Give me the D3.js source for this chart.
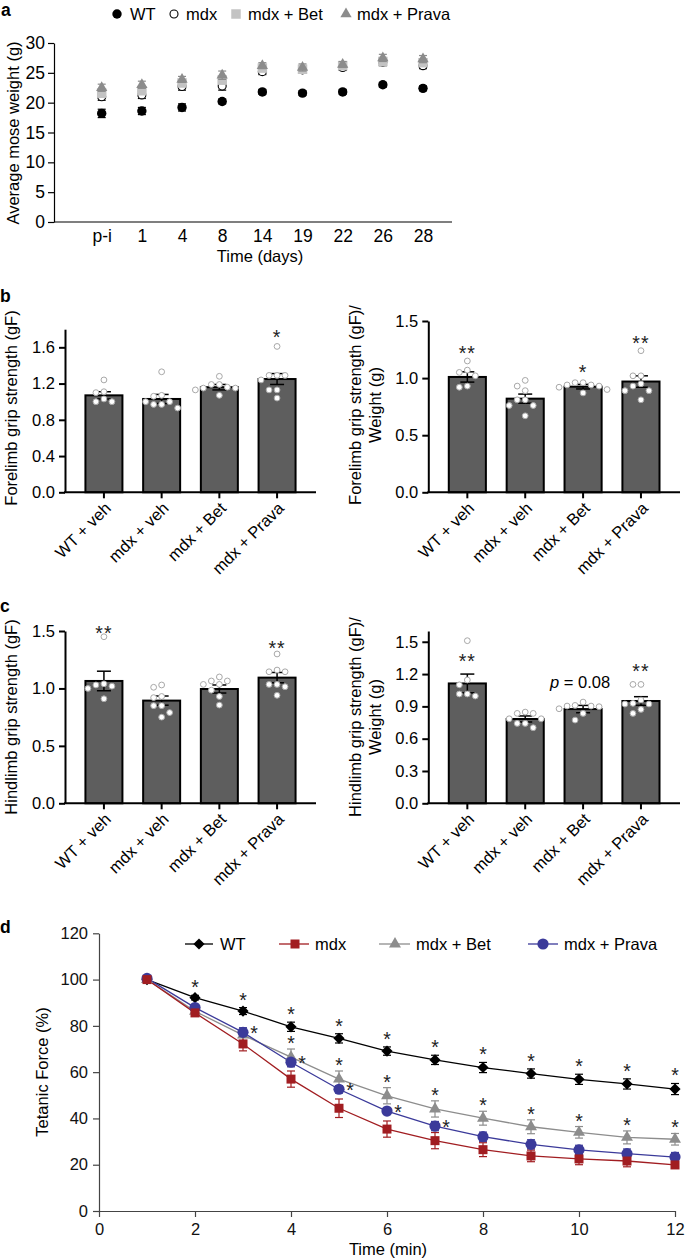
<!DOCTYPE html>
<html><head><meta charset="utf-8">
<script src="https://cdn.jsdelivr.net/npm/d3@7"></script>
<style>
body{margin:0;background:#fff}
svg{display:block}
text{font-family:"Liberation Sans",Arial,Helvetica,sans-serif}
</style>
</head><body><svg id="c" width="685" height="1260"></svg>
<script>
// ---------- DATA ----------
// Panel a: body weight
const weightDays = ["p-i","1","4","8","14","19","22","26","28"];
const wtWeight    = [18.2,18.6,19.2,20.2,21.8,21.6,21.8,23.0,22.4];
const wtWeightErr = [0.7,0.6,0.6,0.4,0.4,0.4,0.4,0.4,0.4];
const mdxWeight    = [21.0,21.3,22.7,22.8,25.2,25.5,25.9,26.8,26.2];
const mdxWeightErr = [0.6,0.6,0.6,0.7,0.5,0.5,0.5,0.6,0.5];
const betWeight    = [21.6,22.0,23.3,23.8,25.8,25.6,26.2,26.9,26.7];
const betWeightErr = [0.7,0.6,0.6,0.7,0.6,0.6,0.6,0.7,0.6];
const pravaWeight    = [22.5,23.0,23.9,24.6,26.2,25.9,26.4,27.5,27.3];
const pravaWeightErr = [0.6,0.6,0.5,0.7,0.5,0.6,0.5,0.6,0.6];
const weightSeriesNames = ["WT","mdx","mdx + Bet","mdx + Prava"];

// Panels b, c: grip strength
const gripGroups = ["WT + veh","mdx + veh","mdx + Bet","mdx + Prava"];

const foreMean = [1.07,1.03,1.16,1.25];
const foreErr  = [0.04,0.05,0.03,0.06];
const forePoints = [
  [1.24,1.11,1.10,1.03,1.00,1.00],
  [1.33,1.07,1.06,1.00,1.00,0.97,0.97,0.93],
  [1.28,1.19,1.19,1.16,1.15,1.15,1.13,1.07],
  [1.61,1.29,1.29,1.29,1.24,1.13,1.13,1.04]];
const foreSig = ["","","","*"];
const foreSigLevel = [0,0,0,1.755];

const foreWMean = [1.01,0.82,0.925,0.97];
const foreWErr  = [0.045,0.04,0.02,0.05];
const foreWPoints = [
  [1.15,1.07,1.05,1.02,0.93,0.92],
  [0.98,0.93,0.89,0.81,0.81,0.76,0.76,0.67],
  [0.96,0.96,0.94,0.94,0.93,0.92,0.90,0.87],
  [1.24,1.02,1.02,0.95,0.93,0.89,0.89,0.81]];
const foreWSig = ["**","","*","**"];
const foreWSigLevel = [1.255,0,1.086,1.342];

const hindMean = [1.065,0.894,0.995,1.094];
const hindErr  = [0.085,0.04,0.035,0.045];
const hindPoints = [
  [1.45,1.04,1.03,1.02,1.00,0.91],
  [1.03,1.01,0.93,0.92,0.85,0.85,0.79,0.75],
  [1.10,1.065,1.065,1.035,1.035,0.985,0.93,0.855],
  [1.30,1.16,1.145,1.145,1.035,1.035,1.015,0.94]];
const hindSig = ["**","","","**"];
const hindSigLevel = [1.52,0,0,1.384];

const hindWMean = [1.113,0.783,0.875,0.95];
const hindWErr  = [0.087,0.028,0.034,0.04];
const hindWPoints = [
  [1.51,1.145,1.10,1.015,1.015,0.996],
  [0.847,0.835,0.835,0.785,0.785,0.742,0.742,0.702],
  [0.94,0.909,0.903,0.903,0.897,0.878,0.835,0.773],
  [1.104,1.104,0.959,0.928,0.922,0.922,0.872,0.835]];
const hindWSig = ["**","","p = 0.08","**"];
const hindWSigLevel = [1.356,0,1.129,1.268];

// Panel d: tetanic force fatigue
const fatigueTime = [1,2,3,4,5,6,7,8,9,10,11,12];
const wtForce    = [100,92.2,86.4,79.6,74.6,69.1,65.3,62.0,59.4,56.9,54.9,52.7];
const wtForceErr = [0,1.0,1.5,2.0,2.0,1.8,2.0,2.2,2.0,2.2,2.2,2.4];
const mdxForce    = [100,85.6,72.2,57.0,44.4,35.4,30.4,26.5,23.8,22.5,21.6,19.9];
const mdxForceErr = [0,1.5,3.0,3.5,4.0,3.5,3.5,3.0,2.5,2.5,2.5,1.5];
const betForce    = [100,86.3,76.0,66.5,57.0,49.8,44.1,40.1,36.4,34.0,31.8,31.0];
const betForceErr = [0,1.5,3.0,3.5,3.5,3.5,3.5,3.0,3.0,2.5,2.8,2.5];
const pravaForce    = [100.5,87.9,77.2,64.3,52.6,43.2,36.7,32.1,28.8,26.4,24.8,23.3];
const pravaForceErr = [0,1.0,2.0,2.0,1.5,1.5,2.0,2.0,2.0,2.0,2.0,2.0];
const wtStarTimes    = [2,3,4,5,6,7,8,9,10,11,12];
const betStarTimes   = [4,5,6,7,8,9,10,11,12];
const pravaStarTimes = [3,4,5,6,7];
const forceYTicks = [0,20,40,60,80,100,120];
const forceXTicks = [0,2,4,6,8,10,12];

// ---------- DRAWING ----------
const FS = 16.5;
const STAR_FS = 19.5;
const svg = d3.select("#c");

function panelLabel(t, x, y){
  svg.append("text").attr("x",x).attr("y",y).text(t)
    .attr("font-size",17.5).attr("font-weight","bold");
}

// ===== Panel a =====
panelLabel("a",1,16);
(function(){
  const L=54, R=452, T=43, B=222;
  const AFS = 17.5;
  const x = d3.scalePoint().domain(weightDays).range([101.7,423]);
  const y = d3.scaleLinear().domain([0,30]).range([B,T]);
  const g = svg.append("g");
  const ya = g.append("g").attr("transform",`translate(${L},0)`)
    .call(d3.axisLeft(y).tickValues([0,5,10,15,20,25,30]).tickSize(6).tickSizeOuter(0).tickPadding(3));
  ya.selectAll("text").attr("font-size",AFS).attr("font-family",null);
  ya.selectAll("path,line").attr("stroke","#000").attr("stroke-width",1.2);
  g.append("line").attr("x1",L).attr("x2",R).attr("y1",B).attr("y2",B).attr("stroke","#000").attr("stroke-width",1.2);
  const xa = g.append("g").attr("transform",`translate(0,${B})`)
    .call(d3.axisBottom(x).tickSize(0).tickPadding(8));
  xa.select(".domain").remove();
  xa.selectAll("text").attr("font-size",AFS).attr("font-family",null);
  g.append("text").attr("x",260).attr("y",262).attr("text-anchor","middle").attr("font-size",FS).text("Time (days)");
  g.append("text").attr("transform","translate(19,133) rotate(-90)").attr("text-anchor","middle").attr("font-size",FS).text("Average mose weight (g)");

  const series = [
    {v:wtWeight,e:wtWeightErr,sym:d3.symbolCircle,size:Math.PI*4.7*4.7,fill:"#000",stroke:"none",ec:"#000"},
    {v:mdxWeight,e:mdxWeightErr,sym:d3.symbolCircle,size:Math.PI*4*4,fill:"#fff",stroke:"#000",ec:"#000"},
    {v:betWeight,e:betWeightErr,sym:d3.symbolSquare,size:9.5*9.5,fill:"#c3c3c3",stroke:"none",ec:"#c3c3c3"},
    {v:pravaWeight,e:pravaWeightErr,sym:d3.symbolTriangle,size:55,fill:"#8c8c8c",stroke:"none",ec:"#8c8c8c"}
  ];
  series.forEach(s=>{
    const sg = g.append("g");
    weightDays.forEach((d,i)=>{
      const cx=x(d), y1=y(s.v[i]+s.e[i]), y2=y(s.v[i]-s.e[i]);
      sg.append("line").attr("x1",cx).attr("x2",cx).attr("y1",y1).attr("y2",y2).attr("stroke",s.ec).attr("stroke-width",1.2);
      sg.append("line").attr("x1",cx-4).attr("x2",cx+4).attr("y1",y1).attr("y2",y1).attr("stroke",s.ec).attr("stroke-width",1.2);
      sg.append("line").attr("x1",cx-4).attr("x2",cx+4).attr("y1",y2).attr("y2",y2).attr("stroke",s.ec).attr("stroke-width",1.2);
      sg.append("path").attr("d",d3.symbol(s.sym,s.size)()).attr("transform",`translate(${cx},${y(s.v[i])})`)
        .attr("fill",s.fill).attr("stroke",s.stroke).attr("stroke-width",1.1);
    });
  });
  // legend
  const leg = [
    {x:117,tx:130,i:0},{x:174,tx:186,i:1},{x:236,tx:248,i:2},{x:346,tx:357,i:3}];
  leg.forEach(l=>{
    const s=series[l.i];
    g.append("path").attr("d",d3.symbol(s.sym,s.size)()).attr("transform",`translate(${l.x},${14})`)
      .attr("fill",s.fill).attr("stroke",s.stroke).attr("stroke-width",1.1);
    g.append("text").attr("x",l.tx).attr("y",20).attr("font-size",FS).text(weightSeriesNames[l.i]);
  });
})();

// ===== Bar panels =====
function barPanel(o){
  const x = d3.scaleBand().domain(gripGroups).range([o.x0,o.x1]).paddingInner(0.359).paddingOuter(0.354);
  const y = d3.scaleLinear().domain([0,o.max]).range([o.y0,o.yTop]);
  const g = svg.append("g");
  const bw = x.bandwidth();
  // bars
  gripGroups.forEach((k,i)=>{
    g.append("rect").attr("x",x(k)).attr("y",y(o.mean[i])).attr("width",bw).attr("height",o.y0-y(o.mean[i]))
      .attr("fill","#5e5e5e").attr("stroke","#000").attr("stroke-width",2);
  });
  // error bars
  gripGroups.forEach((k,i)=>{
    const cx=x(k)+bw/2, y1=y(o.mean[i]+o.err[i]), y2=y(o.mean[i]-o.err[i]);
    g.append("line").attr("x1",cx).attr("x2",cx).attr("y1",y1).attr("y2",y2).attr("stroke","#000").attr("stroke-width",1.5);
    [y1,y2].forEach(yy=>g.append("line").attr("x1",cx-7).attr("x2",cx+7).attr("y1",yy).attr("y2",yy).attr("stroke","#000").attr("stroke-width",1.5));
  });
  // points, simple beeswarm
  gripGroups.forEach((k,i)=>{
    const cx=x(k)+bw/2;
    const placed=[];
    const pts=o.points[i].slice().sort((a,b)=>b-a);
    pts.forEach(v=>{
      const py=y(v);
      const cands=[0,-8,8,-16,16,-24,24];
      let off=0;
      for(const c of cands){
        if(placed.every(p=>Math.hypot(p[0]-c,p[1]-py)>=7)){off=c;break;}
      }
      placed.push([off,py]);
      g.append("circle").attr("cx",cx+off).attr("cy",py).attr("r",2.9)
        .attr("fill","#fff").attr("stroke","#a8a8a8").attr("stroke-width",1);
    });
  });
  // axes
  const ya = g.append("g").attr("transform",`translate(${o.x0},0)`)
    .call(d3.axisLeft(y).tickValues(o.ticks).tickFormat(d3.format(".1f")).tickSize(6).tickSizeOuter(0).tickPadding(4));
  ya.selectAll("path,line").attr("stroke","#000").attr("stroke-width",2);
  ya.selectAll("text").attr("font-size",FS).attr("font-family",null);
  g.append("line").attr("x1",o.x0-1).attr("x2",o.x1).attr("y1",o.y0).attr("y2",o.y0).attr("stroke","#000").attr("stroke-width",2);
  gripGroups.forEach(k=>{
    const cx=x(k)+bw/2;
    g.append("line").attr("x1",cx).attr("x2",cx).attr("y1",o.y0).attr("y2",o.y0+6).attr("stroke","#000").attr("stroke-width",2);
    g.append("text").attr("transform",`translate(${cx+8},${o.y0+17}) rotate(-45)`).attr("text-anchor","end")
      .attr("font-size",FS).text(k);
  });
  // significance
  gripGroups.forEach((k,i)=>{
    const s=o.sig[i]; if(!s) return;
    const cx=x(k)+bw/2;
    if(s.startsWith("p")){
      const t=g.append("text").attr("x",cx-3).attr("y",y(o.sigLevel[i])+6).attr("text-anchor","middle").attr("font-size",FS);
      t.append("tspan").attr("font-style","italic").text("p");
      t.append("tspan").text(s.slice(1));
    } else {
      g.append("text").attr("x",cx).attr("y",y(o.sigLevel[i])+11).attr("text-anchor","middle")
        .attr("font-size",STAR_FS).attr("fill","#222").attr("letter-spacing",1).text(s);
    }
  });
  // y label
  const lt = g.append("text").attr("transform",`translate(${o.lx},${o.ly}) rotate(-90)`).attr("text-anchor","middle").attr("font-size",FS);
  o.label.forEach((t,j)=>lt.append("tspan").attr("x",0).attr("dy",j===0?0:20).text(t));
}

panelLabel("b",0,302);
barPanel({x0:65,x1:316,y0:492.3,yTop:329.2,max:1.8,ticks:[0,0.4,0.8,1.2,1.6],
  mean:foreMean,err:foreErr,points:forePoints,sig:foreSig,sigLevel:foreSigLevel,
  label:["Forelimb grip strength (gF)"],lx:17,ly:408});
barPanel({x0:428.3,x1:680,y0:492.3,yTop:321,max:1.5,ticks:[0,0.5,1.0,1.5],
  mean:foreWMean,err:foreWErr,points:foreWPoints,sig:foreWSig,sigLevel:foreWSigLevel,
  label:["Forelimb grip strength (gF)/","Weight (g)"],lx:361,ly:405});
panelLabel("c",0,612);
barPanel({x0:65,x1:316,y0:803.3,yTop:631,max:1.5,ticks:[0,0.5,1.0,1.5],
  mean:hindMean,err:hindErr,points:hindPoints,sig:hindSig,sigLevel:hindSigLevel,
  label:["Hindlimb grip strength (gF)"],lx:17,ly:717});
barPanel({x0:428.3,x1:680,y0:803.3,yTop:631,max:1.6,ticks:[0,0.3,0.6,0.9,1.2,1.5],
  mean:hindWMean,err:hindWErr,points:hindWPoints,sig:hindWSig,sigLevel:hindWSigLevel,
  label:["Hindlimb grip strength (gF)/","Weight (g)"],lx:361,ly:717});

// ===== Panel d =====
panelLabel("d",0,933);
(function(){
  const L=99, R=675, T=933.3, B=1211;
  const x = d3.scaleLinear().domain([0,12]).range([L,R]);
  const y = d3.scaleLinear().domain([0,120]).range([B,T]);
  const g = svg.append("g");
  const ax = g.append("g").attr("transform",`translate(0,${B})`)
    .call(d3.axisBottom(x).tickValues(forceXTicks).tickSize(6).tickSizeOuter(0).tickPadding(6));
  const ay = g.append("g").attr("transform",`translate(${L},0)`)
    .call(d3.axisLeft(y).tickValues(forceYTicks).tickSize(6).tickSizeOuter(0).tickPadding(5));
  [ax,ay].forEach(a=>{
    a.selectAll("path,line").attr("stroke","#444").attr("stroke-width",1.2);
    a.selectAll("text").attr("font-size",FS).attr("font-family",null).attr("fill","#111");
  });
  g.append("text").attr("x",388).attr("y",1255).attr("text-anchor","middle").attr("font-size",FS).text("Time (min)");
  g.append("text").attr("transform",`translate(48,1072) rotate(-90)`).attr("text-anchor","middle").attr("font-size",FS).text("Tetanic Force (%)");

  const diamond = "M0,-5.6L5.6,0L0,5.6L-5.6,0Z";
  const series = [
    {name:"WT",v:wtForce,e:wtForceErr,color:"#000",path:diamond},
    {name:"mdx",v:mdxForce,e:mdxForceErr,color:"#a11d21",path:d3.symbol(d3.symbolSquare,9*9)()},
    {name:"mdx + Bet",v:betForce,e:betForceErr,color:"#8d8d8d",path:d3.symbol(d3.symbolTriangle,62)()},
    {name:"mdx + Prava",v:pravaForce,e:pravaForceErr,color:"#3b3a9a",path:d3.symbol(d3.symbolCircle,Math.PI*5.6*5.6)()}
  ];
  const line = d3.line().x((d,i)=>x(fatigueTime[i])).y(d=>y(d));
  const drawOrder=[0,2,3,1];
  drawOrder.forEach(k=>{
    const s=series[k];
    const sg=g.append("g");
    sg.append("path").attr("d",line(s.v)).attr("fill","none").attr("stroke",s.color).attr("stroke-width",1.3);
    fatigueTime.forEach((t,i)=>{
      if(!s.e[i]) return;
      const cx=x(t), y1=y(s.v[i]+s.e[i]), y2=y(s.v[i]-s.e[i]);
      sg.append("line").attr("x1",cx).attr("x2",cx).attr("y1",y1).attr("y2",y2).attr("stroke",s.color).attr("stroke-width",1.2);
      [y1,y2].forEach(yy=>sg.append("line").attr("x1",cx-4).attr("x2",cx+4).attr("y1",yy).attr("y2",yy).attr("stroke",s.color).attr("stroke-width",1.2));
    });
  });
  drawOrder.forEach(k=>{
    const s=series[k];
    fatigueTime.forEach((t,i)=>{
      g.append("path").attr("d",s.path).attr("transform",`translate(${x(t)},${y(s.v[i])})`).attr("fill",s.color);
    });
  });
  // stars
  const star=(sx,sy)=>g.append("text").attr("x",sx).attr("y",sy).attr("text-anchor","middle").attr("font-size",STAR_FS).attr("fill","#222").text("*");
  wtStarTimes.forEach(t=>{const i=fatigueTime.indexOf(t); star(x(t),y(wtForce[i]+wtForceErr[i])-1);});
  betStarTimes.forEach(t=>{const i=fatigueTime.indexOf(t); star(x(t),y(betForce[i]+betForceErr[i])+1);});
  pravaStarTimes.forEach(t=>{const i=fatigueTime.indexOf(t); star(x(t)+11,y(pravaForce[i])+8);});
  // legend
  const legX=[{l:185,m:199,r:213,t:220},{l:279,m:295,r:309,t:315},{l:379,m:395,r:410,t:416},{l:528,m:543,r:558,t:564}];
  series.forEach((s,k)=>{
    const p=legX[k], ly=944;
    g.append("line").attr("x1",p.l).attr("x2",p.r).attr("y1",ly).attr("y2",ly).attr("stroke",s.color).attr("stroke-width",1.3);
    g.append("path").attr("d",s.path).attr("transform",`translate(${p.m},${ly})`).attr("fill",s.color);
    g.append("text").attr("x",p.t).attr("y",ly+6).attr("font-size",FS).text(s.name);
  });
})();
</script></body></html>
